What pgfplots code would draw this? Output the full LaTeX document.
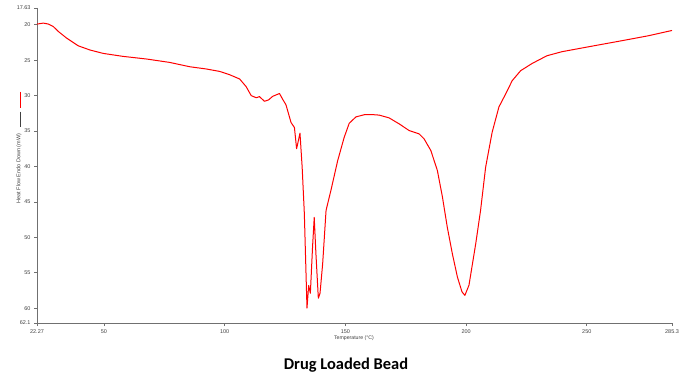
\documentclass[border=0pt]{standalone}
\usepackage{pgfplots}
\pgfplotsset{compat=1.18}
\usepackage{fontspec}
\setmainfont{Liberation Sans}
\newfontfamily\titlefont{Carlito}
\definecolor{axgray}{HTML}{707070}
\definecolor{txtgray}{HTML}{404040}
\begin{document}
\begin{tikzpicture}[x=1bp,y=1bp]
\useasboundingbox (0,0) rectangle (689,379);
\begin{axis}[at={(37bp,56bp)}, anchor=south west, scale only axis,
  width=635bp, height=315bp,
  xmin=22.27, xmax=285.3, ymin=17.63, ymax=62.1, y dir=reverse,
  axis x line*=bottom, axis y line*=left,
  axis line style={axgray, line width=0.8bp, -},
  every tick/.style={axgray, line width=0.6bp},
  tick align=outside, major tick length=3bp,
  xtick={22.27,50,100,150,200,250,285.3},
  xticklabels={22.27,50,100,150,200,250,285.3},
  ytick={17.63,20,25,30,35,40,45,50,55,60,62.1},
  yticklabels={17.63,20,25,30,35,40,45,50,55,60,62.1},
  tick label style={font=\fontsize{5.5}{6}\selectfont, text=txtgray},
  /pgf/number format/assume math mode=true,
  clip=false,
]
\addplot[red, line width=1bp, line join=round] coordinates {
(22.27,19.9) (24.9,19.76) (27,19.9) (29.0,20.24) (31.1,20.94) (34.5,21.87)
(39.3,22.96) (44.2,23.56) (49.7,24.04) (57.9,24.46) (67.6,24.83) (77.2,25.31)
(85.5,25.92) (92.4,26.24) (97.9,26.58) (102.0,27.04) (106.2,27.65) (108.9,28.73)
(111.0,30.0) (113.1,30.3) (114.4,30.14) (116.5,30.8) (118.2,30.6) (119.9,30.1)
(122.7,29.7) (124.0,30.5) (125.4,31.3) (127.5,33.8) (128.9,34.5) (129.8,37.5)
(131.2,35.3) (132.1,40.1) (133.0,46.6) (134.1,60.0) (134.8,56.8) (135.5,57.9)
(136.4,51.4) (137.1,47.2) (137.8,52.3) (138.8,58.6) (139.5,57.9) (140.6,53.7)
(142.0,46.2) (144.0,43.4) (146.8,39.2) (149.5,35.9) (151.6,33.9) (154.4,33.0)
(157.8,32.7) (162,32.7) (164.0,32.75) (168.1,33.14) (172.3,33.99) (176.4,34.93)
(180.5,35.39) (182.6,36.1) (185.4,37.75) (188.1,40.56) (190.2,44.3) (192.2,48.55)
(194.3,52.3) (196.4,55.6) (198.3,57.7) (199.5,58.2) (201.2,56.76) (204.0,50.9)
(206.0,46.2) (208.1,40.1) (210.8,35.17) (213.6,31.6) (216.4,29.76) (219.1,27.89)
(222.6,26.48) (227.4,25.45) (233.5,24.37) (239.7,23.8) (250.8,23.1) (264.5,22.25)
(275.5,21.55) (285.3,20.8)
};
\end{axis}
\node[rotate=90, font=\fontsize{5.5}{6}\selectfont, text=txtgray] at (19,210.3) {Heat Flow Endo Down (mW)};
\draw[red, line width=1bp] (20.7,287.3) -- (20.7,270.7);
\draw[txtgray, line width=0.6bp] (20.7,267.3) -- (20.7,252.3);
\node[font=\fontsize{5.2}{6}\selectfont, text=txtgray] at (354,41.3) {Temperature (°C)};
\node[font=\titlefont\bfseries\fontsize{16.5}{18}\selectfont] at (346,14) {Drug Loaded Bead};
\end{tikzpicture}
\end{document}
